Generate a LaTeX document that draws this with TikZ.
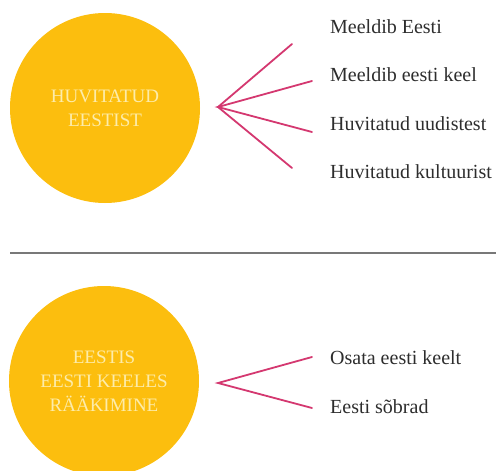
\documentclass[tikz,border=0pt]{standalone}
\usepackage{fontspec}
\setmainfont{Liberation Serif}
\definecolor{gold}{RGB}{252,190,14}
\definecolor{cream}{RGB}{253,236,170}
\definecolor{pinkline}{RGB}{212,56,112}
\definecolor{txt}{RGB}{45,45,45}
\begin{document}
\begin{tikzpicture}[x=1pt,y=-1pt,
  bubble/.style={circle,fill=gold,minimum size=190pt,inner sep=0pt,align=center,text=cream,font=\fontsize{19}{24}\selectfont},
  item/.style={anchor=west,text=txt,font=\fontsize{20}{24}\selectfont,inner sep=0pt},
  fan/.style={draw=pinkline,line width=1.8pt,line cap=round}]
\useasboundingbox (0,0) rectangle (496,471);
\begin{scope}
\clip (0,0) rectangle (496,471);
\node[bubble] (c1) at (105,108) {HUVITATUD\\EESTIST};
\node[bubble] (c2) at (104,381) {EESTIS\\EESTI KEELES\\RÄÄKIMINE};
\end{scope}
\coordinate (a1) at (218,107);
\coordinate (e1) at (292,44);
\coordinate (e2) at (312,81);
\coordinate (e3) at (312,132);
\coordinate (e4) at (292,168);
\draw[fan] (e1) -- (a1) -- (e4);
\draw[fan] (e2) -- (a1) -- (e3);
\node[item] (t1) at (330,27) {Meeldib Eesti};
\node[item] (t2) at (330,75) {Meeldib eesti keel};
\node[item] (t3) at (330,124) {Huvitatud uudistest};
\node[item] (t4) at (330,172) {Huvitatud kultuurist};
\coordinate (l1) at (10,253);
\coordinate (l2) at (496,253);
\draw[draw={rgb,255:red,120;green,120;blue,120},line width=1.3pt] (l1) -- (l2);
\coordinate (a2) at (218,383);
\coordinate (f1) at (312,357);
\coordinate (f2) at (312,408);
\draw[fan] (f1) -- (a2) -- (f2);
\node[item] (u1) at (330,358) {Osata eesti keelt};
\node[item] (u2) at (330,407) {Eesti sõbrad};
\end{tikzpicture}
\end{document}
